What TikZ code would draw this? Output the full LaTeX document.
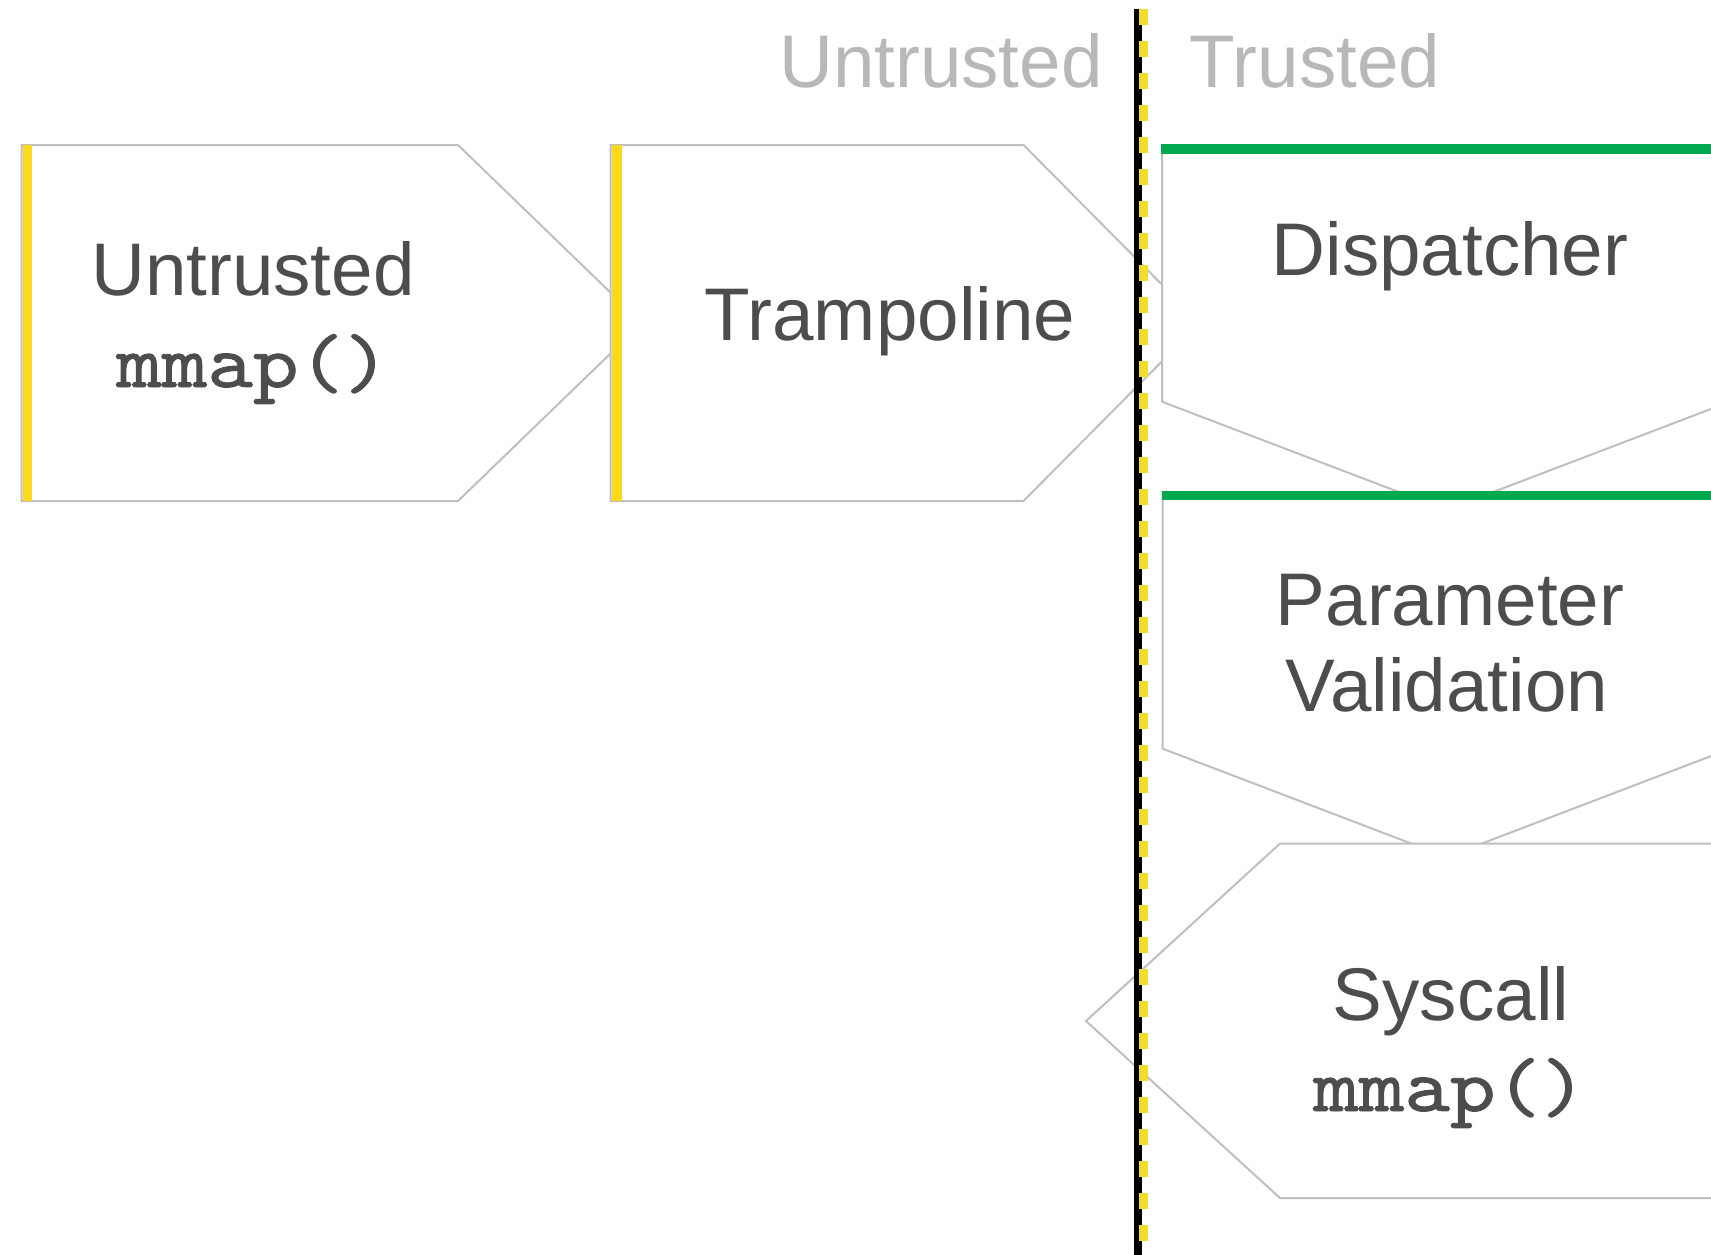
\documentclass[tikz,border=0pt]{standalone}
\usepackage{fontspec}
\setmainfont{Liberation Sans}
\newfontfamily\codefont{lmmono10-regular.otf}[FakeStretch=1.14, FakeBold=1.2]
\definecolor{boxgray}{HTML}{BFBFBF}
\definecolor{inkgray}{HTML}{4D4D4D}
\definecolor{sidegray}{HTML}{B8B8B8}
\definecolor{markyellow}{HTML}{FDD91D}
\definecolor{dashyellow}{HTML}{F2DC2E}
\definecolor{trustgreen}{HTML}{00A84F}
\begin{document}
\begin{tikzpicture}[x=0.5pt,y=-0.5pt,
  stagebox/.style={draw=boxgray, line width=1pt, fill=white, line join=miter},
  txt/.style={text=inkgray, inner sep=0pt, anchor=base, font=\fontsize{37.3pt}{45pt}\selectfont},
  codetxt/.style={txt, font=\codefont\fontsize{38pt}{45pt}\selectfont},
  sidetxt/.style={txt, text=sidegray},
  yellowbar/.style={fill=markyellow, draw=none},
  greenbar/.style={fill=trustgreen, draw=none}]
  \useasboundingbox (0,0) rectangle (1711,1254);
  \fill[white] (0,0) rectangle (1711,1254);
  \clip (0,0) rectangle (1711,1254);

  % zone labels
  \node[sidetxt] (lblu) at (941,87) {Untrusted};
  \node[sidetxt] (lblt) at (1315,87) {Trusted};

  % untrusted stages, pointing right
  \draw[stagebox] (21.5,145) -- (458,145) -- (642,323) -- (458,501) -- (21.5,501) -- cycle;
  \fill[yellowbar] (22.7,145) rectangle (32.3,501);
  \node[txt] (u1) at (253,295) {Untrusted};
  \node[codetxt] (u2) at (253,387) {mmap()};

  \draw[stagebox] (610.5,145) -- (1023.5,145) -- (1200,323) -- (1023.5,501) -- (610.5,501) -- cycle;
  \fill[yellowbar] (612.3,145) rectangle (621.7,501);
  \node[txt] (tr) at (890,340.5) {Trampoline};

  % trusted stages, pointing down
  \draw[stagebox] (1162,145) -- (1162,401.7) -- (1446,510) -- (1730,401.7) -- (1730,145) -- cycle;
  \fill[greenbar] (1160.5,144.3) rectangle (1760,154);
  \node[txt] (dp) at (1450,275) {Dispatcher};

  \draw[stagebox] (1162.5,492) -- (1162.5,748.6) -- (1446.5,857) -- (1730.5,748.6) -- (1730.5,492) -- cycle;
  \fill[greenbar] (1161.7,491) rectangle (1760,500.3);
  \node[txt] (pv1) at (1450,625) {Parameter};
  \node[txt] (pv2) at (1447,711.5) {Validation};

  % syscall stage, pointing back left
  \draw[stagebox] (1280,843.5) -- (1086,1021) -- (1280,1198) -- (1800,1198) -- (1800,843.5) -- cycle;
  \node[txt] (sc1) at (1451,1020) {Syscall};
  \node[codetxt] (sc2) at (1450,1111) {mmap()};

  % trust boundary
  \coordinate (btop) at (1138,9);
  \coordinate (bbot) at (1138,1260);
  \draw[black, line width=4pt] (btop) -- (bbot);
  \draw[dashyellow, line width=4.5pt, dash pattern=on 8pt off 8pt] ([xshift=2.5]btop) -- ([xshift=2.5]bbot);
\end{tikzpicture}
\end{document}
